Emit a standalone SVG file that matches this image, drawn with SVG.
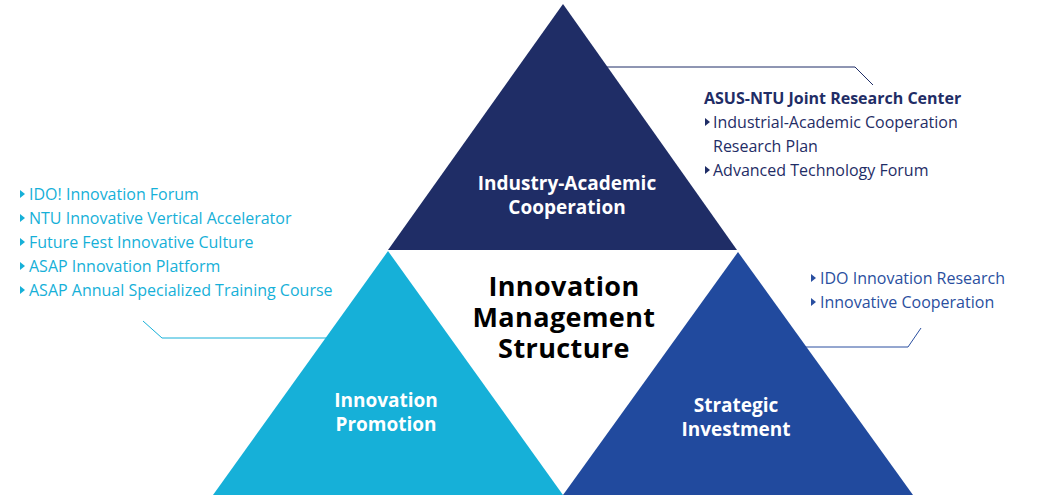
<svg xmlns="http://www.w3.org/2000/svg" width="1038" height="497" viewBox="0 0 1038 497">
<style>
.t{font-family:"Open Sans","Noto Sans",sans-serif;}
.w{fill:#fff;font-weight:bold;font-size:19px;text-anchor:middle;}
.c{fill:#000;font-weight:bold;font-size:27px;letter-spacing:0.4px;text-anchor:middle;}
.nv{fill:#1f2d66;font-size:16px;}
.cy{fill:#16b0d8;font-size:16px;}
.bl{fill:#2a4fa0;font-size:16px;}
</style>
<defs>
<path id="b" d="M0,-4 L5,0 L0,4 Z"/>
</defs>
<rect width="1038" height="497" fill="#fff"/>
<g id="connectors" fill="none" stroke-width="1">
<polyline points="607,67 855,67 873,85" stroke="#1f2d66"/>
<polyline points="143,321 162,338 328,338" stroke="#16b0d8"/>
<polyline points="805,347 908,347 921,328" stroke="#2a4fa0"/>
</g>
<g id="industry-academic">
<polygon points="563,4 388,250 737,250" fill="#1f2d66"/>
<text class="t w" x="567" y="190">Industry-Academic</text>
<text class="t w" x="567" y="214">Cooperation</text>
</g>
<g id="innovation-promotion">
<polygon points="388,251 213,495 563,495" fill="#16b0d8"/>
<text class="t w" x="386" y="407">Innovation</text>
<text class="t w" x="386" y="431">Promotion</text>
</g>
<g id="strategic-investment">
<polygon points="738,252 563,495 913,495" fill="#214a9e"/>
<text class="t w" x="736" y="412">Strategic</text>
<text class="t w" x="736" y="436">Investment</text>
</g>
<g id="center">
<text class="t c"><tspan x="564" y="296">Innovation</tspan><tspan x="564" y="327">Management</tspan><tspan x="564" y="358">Structure</tspan></text>
</g>
<g id="top-list">
<text class="t nv" x="704" y="104" font-weight="bold" font-size="16.6">ASUS-NTU Joint Research Center</text>
<use href="#b" x="705" y="122" fill="#1f2d66"/>
<text class="t nv" x="713" y="128">Industrial-Academic Cooperation</text>
<text class="t nv" x="713" y="152">Research Plan</text>
<use href="#b" x="705" y="170" fill="#1f2d66"/>
<text class="t nv" x="713" y="176">Advanced Technology Forum</text>
</g>
<g id="left-list">
<use href="#b" x="20" y="194" fill="#16b0d8"/>
<text class="t cy" x="29" y="200">IDO! Innovation Forum</text>
<use href="#b" x="20" y="218" fill="#16b0d8"/>
<text class="t cy" x="29" y="224">NTU Innovative Vertical Accelerator</text>
<use href="#b" x="20" y="242" fill="#16b0d8"/>
<text class="t cy" x="29" y="248">Future Fest Innovative Culture</text>
<use href="#b" x="20" y="266" fill="#16b0d8"/>
<text class="t cy" x="29" y="272">ASAP Innovation Platform</text>
<use href="#b" x="20" y="290" fill="#16b0d8"/>
<text class="t cy" x="29" y="296">ASAP Annual Specialized Training Course</text>
</g>
<g id="right-list">
<use href="#b" x="811" y="278" fill="#2a4fa0"/>
<text class="t bl" x="820" y="284">IDO Innovation Research</text>
<use href="#b" x="811" y="302" fill="#2a4fa0"/>
<text class="t bl" x="820" y="308">Innovative Cooperation</text>
</g>
</svg>
